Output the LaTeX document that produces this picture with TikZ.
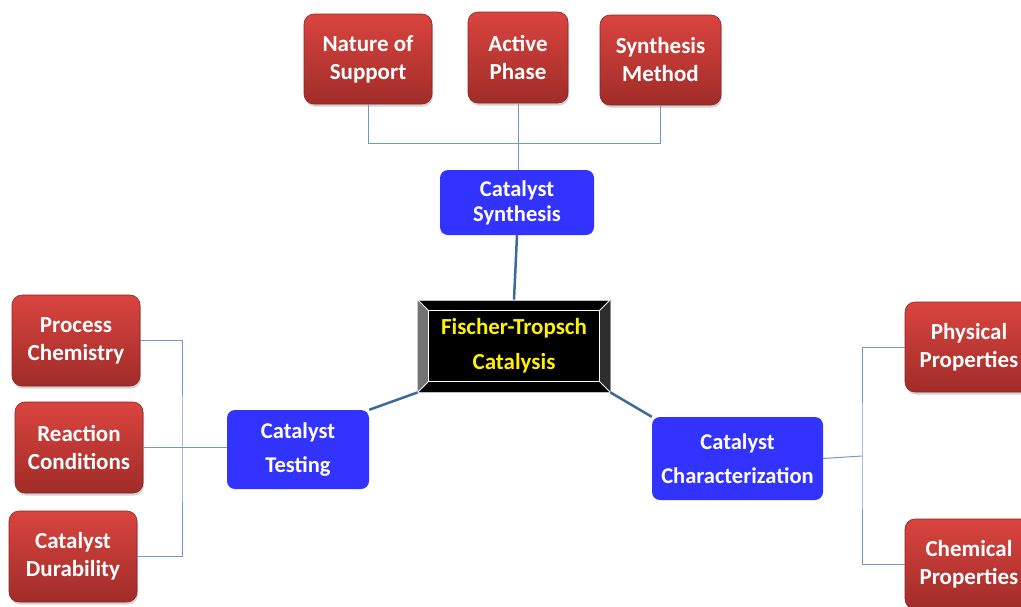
\documentclass[tikz,border=0pt]{standalone}
\usepackage{fontspec}
\setmainfont{Carlito}
\usetikzlibrary{shadows,calc}
\definecolor{boxred}{RGB}{218,68,63}
\definecolor{boxreddark}{RGB}{160,44,40}
\definecolor{boxblue}{RGB}{51,51,255}
\definecolor{feedercol}{RGB}{112,152,205}
\definecolor{spokecol}{RGB}{61,106,154}
\tikzset{
  redbox/.style={rectangle, rounded corners=10pt, top color=boxred, bottom color=boxreddark,
    draw=boxreddark!85!black, line width=0.6pt, minimum width=128pt, minimum height=90pt,
    text=white, align=center, inner sep=0pt, font=\fontsize{23}{28}\selectfont\bfseries,
    drop shadow={shadow xshift=1pt, shadow yshift=-2.5pt, opacity=0.35}},
  bluebox/.style={rectangle, rounded corners=8pt, fill=boxblue, text=white, align=center,
    inner sep=0pt, font=\fontsize{22.5}{25}\selectfont\bfseries},
  widebox/.style={bluebox, font=\fontsize{22.5}{34}\selectfont\bfseries},
  feeder/.style={draw=feedercol, line width=1pt},
  spoke/.style={draw=spokecol, line width=2.5pt}
}
\begin{document}
\begin{tikzpicture}[x=1pt,y=-1pt]
  \useasboundingbox (0,0) rectangle (1021,606);
  \clip (0,0) rectangle (1021,606);
  % top branch
  \node[redbox] (nature) at (368,59) {Nature of\\Support};
  \node[redbox, minimum width=100pt, minimum height=91pt] (active) at (518,57.5) {Active\\Phase};
  \node[redbox, minimum width=121pt] (method) at (660.5,60) {Synthesis\\Method};
  \node[bluebox, minimum width=154pt, minimum height=65pt] (synth) at (517,202.5) {Catalyst\\Synthesis};
  % centre
  \node[rectangle, fill=black, draw=gray!50, line width=0.8pt, minimum width=192pt, minimum height=92pt,
    text=yellow, align=center, inner sep=0pt, font=\fontsize{23}{35}\selectfont\bfseries] (core) at (514,346) {Fischer-Tropsch\\Catalysis};
  \fill[black!55] (core.north west) -- ($(core.north west)+(11,11)$) -- ($(core.south west)+(11,-11)$) -- (core.south west) -- cycle;
  \fill[black!82] (core.north east) -- ($(core.north east)+(-11,11)$) -- ($(core.south east)+(-11,-11)$) -- (core.south east) -- cycle;
  \draw[white, line width=1pt] ($(core.north west)+(11,11)$) rectangle ($(core.south east)+(-11,-11)$);
  \foreach \c/\dx/\dy in {north west/11/11, north east/-11/11, south west/11/-11, south east/-11/-11}
    \draw[white, line width=0.8pt] (core.\c) -- ++(\dx,\dy);
  % left branch
  \node[widebox, minimum width=142pt, minimum height=79pt] (testing) at (298,449.5) {Catalyst\\Testing};
  \node[redbox, minimum height=91pt] (process) at (76,340.5) {Process\\Chemistry};
  \node[redbox, minimum height=91pt] (reaction) at (79,447.5) {Reaction\\Conditions};
  \node[redbox, minimum height=91pt] (durab) at (73,556.5) {Catalyst\\Durability};
  % right branch
  \node[widebox, minimum width=171pt, minimum height=83pt] (charact) at (737.5,458.5) {Catalyst\\Characterization};
  \node[redbox] (physical) at (969,347) {Physical\\Properties};
  \node[redbox] (chemical) at (969,564) {Chemical\\Properties};
  \coordinate (lbus) at (182,449);
  \coordinate (rbus) at (862,456);
  % connectors
  \draw[feeder] (nature.south) -- ++(0,39) -| (method.south);
  \draw[feeder] (active.south) -- (active.south |- synth.north);
  \draw[spoke] (synth.south) -- (core.north);
  \draw[spoke] (testing.north east) -- (core.south west);
  \draw[spoke] (core.south east) -- (charact.north west);
  \draw[feeder] (process.east) -| (lbus) |- (durab.east);
  \draw[feeder] (reaction.east) -- (reaction.east -| testing.west);
  \draw[feeder] (charact.east) -- (rbus);
  \draw[feeder] (physical.west) -| (rbus) |- (chemical.west);
\end{tikzpicture}
\end{document}
